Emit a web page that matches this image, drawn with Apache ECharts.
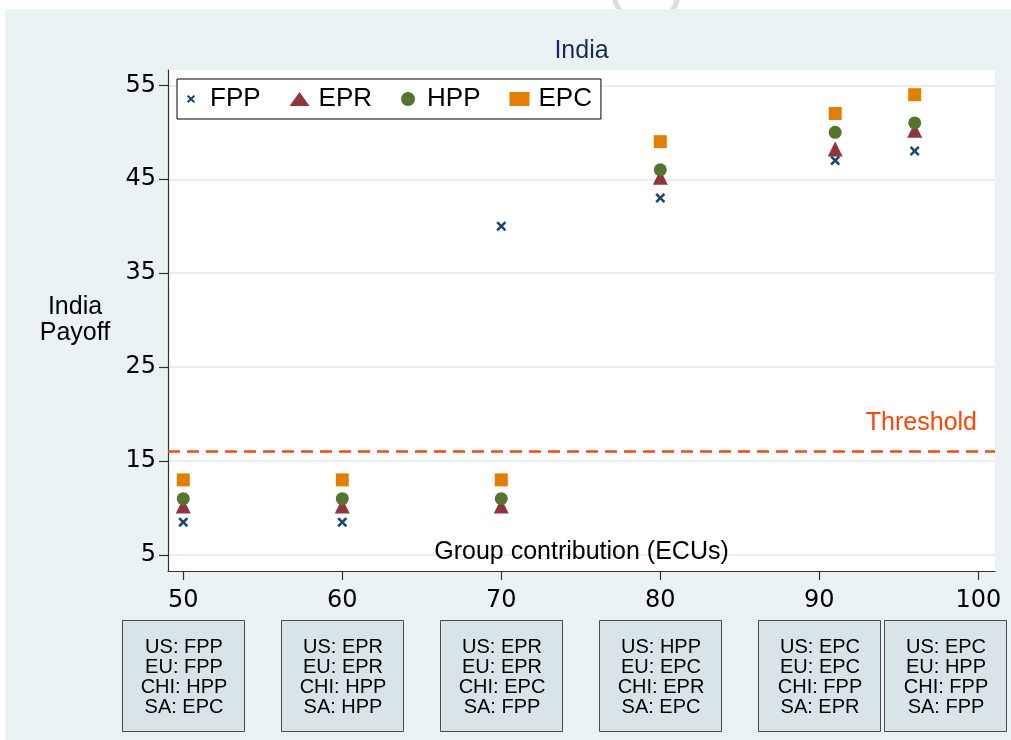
<!DOCTYPE html>
<html>
<head>
<meta charset="utf-8">
<title>India Payoff</title>
<script src="https://cdn.jsdelivr.net/npm/echarts@6/dist/echarts.min.js"></script>
<style>
  html, body { margin: 0; padding: 0; background: #ffffff; }
  #chart { width: 1011px; height: 740px; }
</style>
</head>
<body>
<div id="chart"></div>
<script>
// ---- data ----
const contributions = [50, 60, 70, 80, 91, 96];
const fppPayoff = [8.5, 8.5, 40, 43, 47, 48];
const eprPayoff = [10, 10, 10, 45, 48, 50];
const hppPayoff = [11, 11, 11, 46, 50, 51];
const epcPayoff = [13, 13, 13, 49, 52, 54];
const threshold = 16;
const yTickValues = [5, 15, 25, 35, 45, 55];
const xTickValues = [50, 60, 70, 80, 90, 100];
const profiles = [
  ['US: FPP', 'EU: FPP', 'CHI: HPP', 'SA: EPC'],
  ['US: EPR', 'EU: EPR', 'CHI: HPP', 'SA: HPP'],
  ['US: EPR', 'EU: EPR', 'CHI: EPC', 'SA: FPP'],
  ['US: HPP', 'EU: EPC', 'CHI: EPR', 'SA: EPC'],
  ['US: EPC', 'EU: EPC', 'CHI: FPP', 'SA: EPR'],
  ['US: EPC', 'EU: HPP', 'CHI: FPP', 'SA: FPP']
];

// ---- styling ----
const FONT = "'Liberation Sans', Arial, Helvetica, sans-serif";
const TICK_FONT = "'DejaVu Sans', 'Liberation Sans', Arial, sans-serif";
const NAVY = '#1a476f', MAROON = '#90353b', GREEN = '#55752f', ORANGE = '#e37e00';
const OUTER_BG = '#eaf2f3';
const X_MARK = 'path://M0,1.8 L1.8,0 L5,3.2 L8.2,0 L10,1.8 L6.8,5 L10,8.2 L8.2,10 L5,6.8 L1.8,10 L0,8.2 L3.2,5 Z';
const X_MARK_LEGEND = 'path://M-3.5,-3.5 M13.5,13.5 M0,1.8 L1.8,0 L5,3.2 L8.2,0 L10,1.8 L6.8,5 L10,8.2 L8.2,10 L5,6.8 L1.8,10 L0,8.2 L3.2,5 Z';

const pairs = ys => contributions.map((x, i) => [x, ys[i]]);

const chart = echarts.init(document.getElementById('chart'), null, { renderer: 'canvas' });

const option = {
  animation: false,
  backgroundColor: '#ffffff',
  textStyle: { fontFamily: FONT },
  legend: {
    left: 177,
    top: 79,
    orient: 'horizontal',
    padding: [7, 9, 7, 7],
    itemGap: 29,
    itemWidth: 20,
    itemHeight: 14,
    borderColor: '#000000',
    borderWidth: 1,
    borderRadius: 0,
    backgroundColor: '#ffffff',
    selectedMode: false,
    textStyle: { fontFamily: FONT, fontSize: 26, color: '#000000', padding: [0, 0, 0, 4] },
    data: [
      { name: 'FPP', icon: X_MARK_LEGEND },
      { name: 'EPR', icon: 'triangle' },
      { name: 'HPP', icon: 'circle' },
      { name: 'EPC', icon: 'rect' }
    ]
  },
  grid: {
    left: 168,
    top: 70,
    right: 16,
    bottom: 169,
    show: true,
    backgroundColor: '#ffffff',
    borderWidth: 0,
    containLabel: false
  },
  xAxis: {
    type: 'value',
    min: 49.04,
    max: 101.05,
    name: 'Group contribution (ECUs)',
    nameLocation: 'middle',
    nameGap: -19,
    nameTextStyle: { fontFamily: FONT, fontSize: 25, color: '#000000', verticalAlign: 'middle' },
    axisLine: { show: true, onZero: false, lineStyle: { color: '#333333', width: 1.2 } },
    axisTick: { show: true, length: 9, inside: false, customValues: xTickValues, lineStyle: { color: '#333333', width: 1.2 } },
    axisLabel: { show: true, margin: 18, customValues: xTickValues, fontFamily: TICK_FONT, fontSize: 24, color: '#000000' },
    splitLine: { show: false }
  },
  yAxis: {
    type: 'value',
    min: 3.3,
    max: 56.63,
    name: 'India\nPayoff',
    nameLocation: 'middle',
    nameRotate: 0,
    nameGap: 93,
    nameTextStyle: { fontFamily: FONT, fontSize: 25, lineHeight: 26, color: '#000000', align: 'center', verticalAlign: 'middle' },
    axisLine: { show: true, onZero: false, lineStyle: { color: '#333333', width: 1.2 } },
    axisTick: { show: true, length: 9, inside: false, customValues: yTickValues, lineStyle: { color: '#333333', width: 1.2 } },
    axisLabel: { show: true, margin: 12, customValues: yTickValues, fontFamily: TICK_FONT, fontSize: 24, color: '#000000' },
    splitLine: { show: true, lineStyle: { color: '#e6eef0', width: 2 } }
  },
  series: [
    {
      name: 'FPP',
      type: 'scatter',
      symbol: X_MARK,
      symbolSize: 10,
      itemStyle: { color: NAVY, opacity: 1 },
      emphasis: { disabled: true },
      data: pairs(fppPayoff),
      markLine: {
        silent: true,
        symbol: ['none', 'none'],
        lineStyle: { color: '#ff4500', type: [12, 7], width: 2.5 },
        label: {
          show: true,
          formatter: 'Threshold',
          position: 'insideEndTop',
          distance: [18, 16],
          color: '#ff4500',
          fontFamily: FONT,
          fontSize: 25
        },
        emphasis: { disabled: true },
        data: [{ yAxis: threshold }]
      }
    },
    {
      name: 'EPR',
      type: 'scatter',
      symbol: 'triangle',
      symbolSize: 15,
      symbolOffset: [0, -2],
      itemStyle: { color: MAROON, opacity: 1 },
      emphasis: { disabled: true },
      data: pairs(eprPayoff)
    },
    {
      name: 'HPP',
      type: 'scatter',
      symbol: 'circle',
      symbolSize: 13,
      itemStyle: { color: GREEN, opacity: 1 },
      emphasis: { disabled: true },
      data: pairs(hppPayoff)
    },
    {
      name: 'EPC',
      type: 'scatter',
      symbol: 'rect',
      symbolSize: 13,
      itemStyle: { color: ORANGE, opacity: 1, borderRadius: 1 },
      emphasis: { disabled: true },
      data: pairs(epcPayoff)
    }
  ]
};

chart.setOption(option);

// ---- background panel, title and the strategy-profile boxes under the x axis ----
const BOX_W = 122, BOX_TOP = 620, BOX_H = 111;
const boxCenters = xTickValues.slice(0, 5).map(v => chart.convertToPixel({ xAxisIndex: 0 }, v));
// the last profile box sits right beside the fifth one
boxCenters.push(boxCenters[4] + BOX_W / 2 + 4 + BOX_W / 2);

// the title is centred over the plot area rather than the whole canvas
const plotLeft = chart.convertToPixel({ xAxisIndex: 0 }, 49.04);
const plotRight = chart.convertToPixel({ xAxisIndex: 0 }, 101.05);

const graphics = [
  {
    type: 'circle',
    silent: true,
    z: -20,
    shape: { cx: 646, cy: -8, r: 32 },
    style: { fill: 'none', stroke: '#dcdcdc', lineWidth: 5 }
  },
  {
    type: 'rect',
    silent: true,
    z: -10,
    shape: { x: 5, y: 9, width: 1011 - 5, height: 740 - 9 },
    style: { fill: OUTER_BG }
  },
  {
    type: 'text',
    silent: true,
    style: {
      x: (plotLeft + plotRight) / 2,
      y: 51,
      text: 'India',
      fontFamily: FONT,
      fontSize: 25,
      fill: '#1a2a57',
      align: 'center',
      verticalAlign: 'middle'
    }
  }
];

profiles.forEach((lines, i) => {
  const cx = Math.round(boxCenters[i]);
  graphics.push({
    type: 'rect',
    silent: true,
    shape: { x: cx - BOX_W / 2 + 0.5, y: BOX_TOP + 0.5, width: BOX_W, height: BOX_H },
    style: { fill: '#d9e4e9', stroke: '#4a4a4a', lineWidth: 1 }
  });
  graphics.push({
    type: 'text',
    silent: true,
    style: {
      x: cx + 1,
      y: BOX_TOP + BOX_H / 2 + 2,
      text: lines.join('\n'),
      fontFamily: FONT,
      fontSize: 20,
      lineHeight: 20,
      fill: '#000000',
      align: 'center',
      verticalAlign: 'middle'
    }
  });
});

chart.setOption({ graphic: { elements: graphics } });
</script>
</body>
</html>
